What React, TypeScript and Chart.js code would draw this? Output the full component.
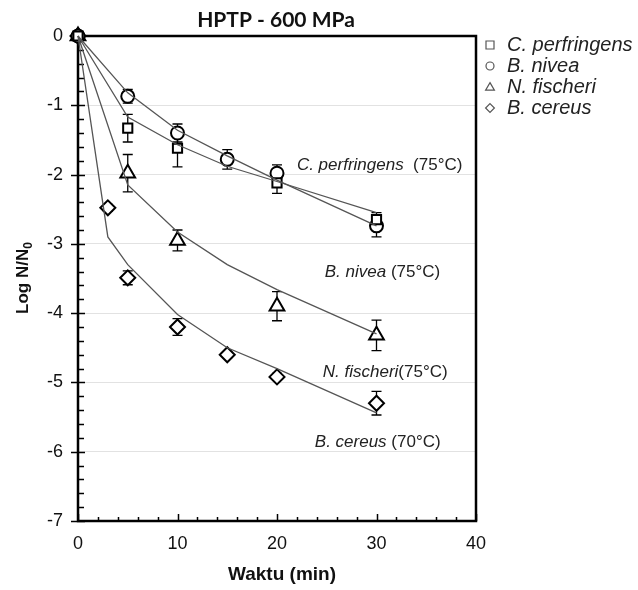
import React, { useEffect, useRef } from "react";
import { Chart, registerables } from "chart.js";

Chart.register(...registerables);

// ---------- data ----------
const cPerfTime = [0, 5, 10, 20, 30];
const cPerfLog = [0, -1.33, -1.62, -2.12, -2.65];
const cPerfErr = [0, 0.2, 0.27, 0.15, 0.1];

const bNiveaTime = [0, 5, 10, 15, 20, 30];
const bNiveaLog = [0, -0.87, -1.4, -1.78, -1.98, -2.74];
const bNiveaErr = [0, 0.1, 0.13, 0.14, 0.12, 0.16];

const nFischTime = [0, 5, 10, 20, 30];
const nFischLog = [0, -1.98, -2.95, -3.9, -4.32];
const nFischErr = [0, 0.27, 0.15, 0.21, 0.22];

const bCereusTime = [0, 3, 5, 10, 15, 20, 30];
const bCereusLog = [0, -2.48, -3.49, -4.2, -4.6, -4.92, -5.3];
const bCereusErr = [0, 0.05, 0.1, 0.12, 0.04, 0.05, 0.17];

// fitted model curves
const cPerfFitTime = [0, 5, 10, 15, 20, 30];
const cPerfFit = [0, -1.17, -1.57, -1.88, -2.1, -2.55];
const bNiveaFitTime = [0, 5, 10, 15, 20, 30];
const bNiveaFit = [0, -0.82, -1.36, -1.73, -2.08, -2.74];
const nFischFitTime = [0, 5, 10, 15, 20, 30];
const nFischFit = [0, -2.15, -2.83, -3.3, -3.66, -4.3];
const bCereusFitTime = [0, 3, 5, 10, 15, 20, 30];
const bCereusFit = [0, -2.9, -3.3, -4.02, -4.5, -4.8, -5.44];

const seriesNames = ["C. perfringens", "B. nivea", "N. fischeri", "B. cereus"];
const curveNames = ["C. perfringens", "B. nivea", "N. fischeri", "B. cereus"];
const curveTemps = ["  (75°C)", " (75°C)", "(75°C)", " (70°C)"];
const curveLabelX = [22.0, 24.8, 24.6, 23.8];
const curveLabelY = [-1.86, -3.41, -4.86, -5.87];

const xTicks = [0, 10, 20, 30, 40];
const yTicks = [0, -1, -2, -3, -4, -5, -6, -7];

const chartTitle = "HPTP - 600 MPa";
const xTitle = "Waktu (min)";
const yTitleMain = "Log N/N";
const yTitleSub = "0";

const pts = (xs: number[], ys: number[]) => xs.map((x, i) => ({ x, y: ys[i] }));

const FONT = "'Liberation Sans', Arial, sans-serif";

const errSets = [
  { t: cPerfTime, y: cPerfLog, e: cPerfErr },
  { t: bNiveaTime, y: bNiveaLog, e: bNiveaErr },
  { t: nFischTime, y: nFischLog, e: nFischErr },
  { t: bCereusTime, y: bCereusLog, e: bCereusErr },
];

function drawShape(ctx: CanvasRenderingContext2D, kind: number, cx: number, cy: number, r: number) {
  ctx.beginPath();
  if (kind === 0) {
    ctx.rect(cx - r, cy - r, 2 * r, 2 * r);
  } else if (kind === 1) {
    ctx.arc(cx, cy, r, 0, Math.PI * 2);
  } else if (kind === 2) {
    ctx.moveTo(cx, cy - r * 1.1);
    ctx.lineTo(cx + r * 1.1, cy + r * 0.8);
    ctx.lineTo(cx - r * 1.1, cy + r * 0.8);
    ctx.closePath();
  } else {
    ctx.moveTo(cx, cy - r * 1.1);
    ctx.lineTo(cx + r * 1.1, cy);
    ctx.lineTo(cx, cy + r * 1.1);
    ctx.lineTo(cx - r * 1.1, cy);
    ctx.closePath();
  }
  ctx.stroke();
}

const decorPlugin = {
  id: "decor",
  beforeDatasetsDraw(chart: any) {
    const { ctx, chartArea: a, scales } = chart;
    const x = scales.x;
    const y = scales.y;
    ctx.save();
    // error bars
    ctx.strokeStyle = "#000";
    ctx.lineWidth = 1.3;
    errSets.forEach((s) => {
      s.t.forEach((t, i) => {
        const e = s.e[i];
        if (!e) return;
        const px = x.getPixelForValue(t);
        const top = y.getPixelForValue(s.y[i] + e);
        const bot = y.getPixelForValue(s.y[i] - e);
        ctx.beginPath();
        ctx.moveTo(px, top);
        ctx.lineTo(px, bot);
        ctx.moveTo(px - 5, top);
        ctx.lineTo(px + 5, top);
        ctx.moveTo(px - 5, bot);
        ctx.lineTo(px + 5, bot);
        ctx.stroke();
      });
    });
    // ticks
    ctx.strokeStyle = "#000";
    ctx.lineWidth = 1.5;
    ctx.beginPath();
    for (let i = 0; i <= 35; i++) {
      const v = -7 + i * 0.2;
      const py = Math.round(y.getPixelForValue(v)) + 0.5;
      if (i % 5 === 0) {
        ctx.moveTo(a.left - 7, py);
        ctx.lineTo(a.left + 7, py);
      } else {
        ctx.moveTo(a.left, py);
        ctx.lineTo(a.left + 6, py);
      }
    }
    for (let i = 0; i <= 20; i++) {
      const v = i * 2;
      const px = Math.round(x.getPixelForValue(v)) + 0.5;
      ctx.moveTo(px, a.bottom);
      ctx.lineTo(px, a.bottom - (i % 5 === 0 ? 7 : 4));
    }
    ctx.stroke();
    // frame
    ctx.lineWidth = 2.5;
    ctx.strokeRect(a.left, a.top, a.right - a.left, a.bottom - a.top);
    ctx.restore();
  },
  afterDraw(chart: any) {
    const { ctx, chartArea: a, scales } = chart;
    const x = scales.x;
    const y = scales.y;
    ctx.save();
    // title
    ctx.fillStyle = "#111";
    ctx.textAlign = "center";
    ctx.textBaseline = "middle";
    ctx.font = "bold 21px Lato, 'Open Sans', sans-serif";
    ctx.fillText(chartTitle, (a.left + a.right) / 2 - 1, 20);
    // x title
    ctx.font = `bold 19px ${FONT}`;
    ctx.fillText(xTitle, (a.left + a.right) / 2 + 5, 575);
    // y title
    ctx.save();
    ctx.translate(22, 278);
    ctx.rotate(-Math.PI / 2);
    ctx.textAlign = "left";
    ctx.textBaseline = "alphabetic";
    ctx.font = `bold 17px ${FONT}`;
    const w1 = ctx.measureText(yTitleMain).width;
    ctx.font = `bold 12px ${FONT}`;
    const w2 = ctx.measureText(yTitleSub).width;
    const start = -(w1 + w2) / 2;
    ctx.font = `bold 17px ${FONT}`;
    ctx.fillText(yTitleMain, start, 6);
    ctx.font = `bold 12px ${FONT}`;
    ctx.fillText(yTitleSub, start + w1, 10);
    ctx.restore();
    // curve labels
    ctx.textAlign = "left";
    ctx.textBaseline = "middle";
    ctx.fillStyle = "#222";
    curveNames.forEach((n, i) => {
      const px = x.getPixelForValue(curveLabelX[i]);
      const py = y.getPixelForValue(curveLabelY[i]);
      ctx.font = `italic 17px ${FONT}`;
      ctx.fillText(n, px, py);
      const w = ctx.measureText(n).width;
      ctx.font = `17px ${FONT}`;
      ctx.fillText(curveTemps[i], px + w, py);
    });
    // legend
    const lx = a.right + 14;
    ctx.strokeStyle = "#555";
    ctx.lineWidth = 1.2;
    seriesNames.forEach((n, i) => {
      const cy = 45 + i * 21;
      drawShape(ctx, i, lx, cy, 4);
      ctx.fillStyle = "#222";
      ctx.font = `italic 20px ${FONT}`;
      ctx.fillText(n, lx + 17, cy);
    });
    ctx.restore();
  },
};

const markerStyles = ["rect", "circle", "triangle", "rectRot"];
const markerRadius = [6.5, 6.5, 8.5, 7.5];

export default function App() {
  const ref = useRef<HTMLCanvasElement | null>(null);
  useEffect(() => {
    if (!ref.current) return;
    const fitLine = (xs: number[], ys: number[]) => ({
      type: "line" as const,
      data: pts(xs, ys),
      showLine: true,
      borderColor: "#555",
      borderWidth: 1.3,
      pointRadius: 0,
      fill: false,
      tension: 0,
      clip: false as any,
    });
    const scatter = (xs: number[], ys: number[], i: number) => ({
      type: "scatter" as const,
      label: seriesNames[i],
      data: pts(xs, ys),
      showLine: false,
      pointStyle: markerStyles[i],
      pointRadius: markerRadius[i],
      pointBorderColor: "#000",
      pointBackgroundColor: "#fff",
      pointBorderWidth: 2,
      clip: false as any,
    });
    const chart = new Chart(ref.current, {
      type: "scatter",
      data: {
        datasets: [
          fitLine(cPerfFitTime, cPerfFit),
          fitLine(bNiveaFitTime, bNiveaFit),
          fitLine(nFischFitTime, nFischFit),
          fitLine(bCereusFitTime, bCereusFit),
          scatter(cPerfTime, cPerfLog, 0),
          scatter(bNiveaTime, bNiveaLog, 1),
          scatter(nFischTime, nFischLog, 2),
          scatter(bCereusTime, bCereusLog, 3),
        ] as any,
      },
      options: {
        animation: false,
        responsive: false,
        devicePixelRatio: 1,
        layout: { padding: { top: 36, right: 162, left: 0, bottom: 0 } },
        plugins: { legend: { display: false }, tooltip: { enabled: false }, title: { display: false } },
        scales: {
          x: {
            type: "linear",
            min: xTicks[0],
            max: xTicks[xTicks.length - 1],
            afterBuildTicks: (s: any) => {
              s.ticks = xTicks.map((v) => ({ value: v }));
            },
            afterFit: (s: any) => {
              s.height = 69;
            },
            grid: { display: false, drawTicks: false },
            border: { display: false },
            ticks: { color: "#111", font: { size: 18, family: FONT }, padding: 12, maxRotation: 0 },
          },
          y: {
            type: "linear",
            min: -7,
            max: 0,
            afterBuildTicks: (s: any) => {
              s.ticks = yTicks.map((v) => ({ value: v }));
            },
            afterFit: (s: any) => {
              s.width = 78;
            },
            grid: {
              drawTicks: false,
              color: (c: any) => (c.tick && c.tick.value === 0 ? "rgba(0,0,0,0)" : "#e2e2e2"),
              lineWidth: 1,
            },
            border: { display: false },
            ticks: { color: "#111", font: { size: 18, family: FONT }, padding: 15 },
          },
        },
      },
      plugins: [decorPlugin],
    });
    return () => chart.destroy();
  }, []);
  return (
    <div style={{ position: "absolute", left: 0, top: 0, width: 638, height: 590, background: "#fff" }}>
      <canvas ref={ref} width={638} height={590} />
    </div>
  );
}
